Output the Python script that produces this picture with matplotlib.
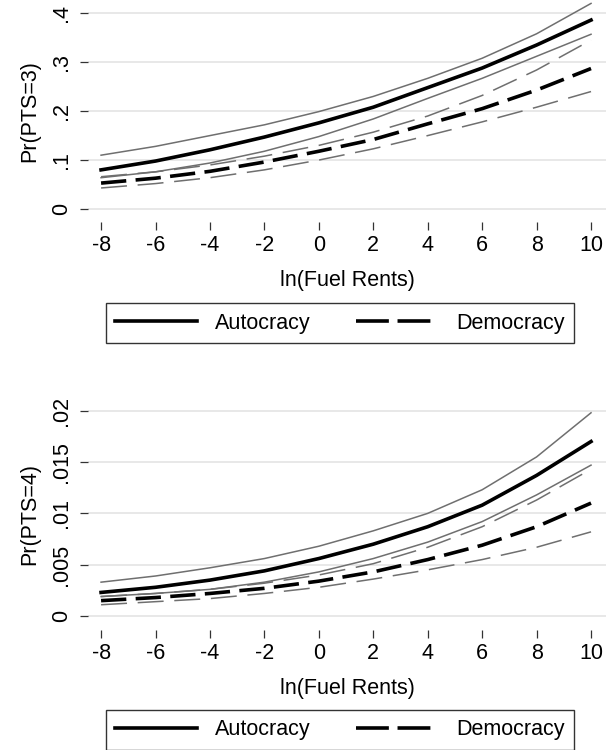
import matplotlib
matplotlib.use("Agg")
from matplotlib import pyplot as plt
from matplotlib.lines import Line2D

plt.rcParams['font.family'] = ['Liberation Sans', 'DejaVu Sans']

# ln(Fuel Rents) grid
fuel = [-8, -6, -4, -2, 0, 2, 4, 6, 8, 10]

# Pr(PTS=3)
auto3 = [.080, .098, .121, .147, .176, .208, .248, .288, .335, .386]
auto3_hi = [.110, .128, .150, .172, .199, .230, .267, .308, .358, .420]
auto3_lo = [.064, .076, .094, .118, .148, .184, .226, .267, .312, .357]
demo3 = [.053, .063, .077, .096, .118, .142, .174, .205, .243, .287]
demo3_hi = [.066, .076, .090, .108, .130, .157, .190, .232, .284, .345]
demo3_lo = [.043, .052, .064, .080, .100, .123, .150, .178, .208, .240]

# Pr(PTS=4)
auto4 = [.0023, .0028, .0035, .0044, .0056, .0070, .0087, .0108, .0137, .0170]
auto4_hi = [.0033, .0039, .0047, .0056, .0068, .0083, .0100, .0123, .0155, .0198]
auto4_lo = [.0019, .0022, .0026, .0033, .0043, .0056, .0072, .0092, .0118, .0147]
demo4 = [.0015, .0018, .0022, .0027, .0034, .0043, .0055, .0069, .0087, .0110]
demo4_hi = [.0019, .0022, .0026, .0032, .0040, .0051, .0067, .0087, .0113, .0143]
demo4_lo = [.0011, .0014, .0017, .0022, .0028, .0036, .0045, .0055, .0067, .0082]

yticks3 = [0, .1, .2, .3, .4]
ylabels3 = ['0', '.1', '.2', '.3', '.4']
yticks4 = [0, .005, .01, .015, .02]
ylabels4 = ['0', '.005', '.01', '.015', '.02']

W, H = 613, 750
FS = 15.5
GRAY = '#6f6f6f'


def panel(ax, mean_a, hi_a, lo_a, mean_d, hi_d, lo_d, yticks, ylabels, ylim, ylab):
    for y in yticks:
        ax.axhline(y, color='#e6e6e6', lw=1.3, zorder=0)
    ax.plot(fuel, hi_a, color=GRAY, lw=1.1)
    ax.plot(fuel, lo_a, color=GRAY, lw=1.1)
    ax.plot(fuel, hi_d, color=GRAY, lw=1.1, dashes=(17, 7))
    ax.plot(fuel, lo_d, color=GRAY, lw=1.1, dashes=(17, 7))
    ax.plot(fuel, mean_a, color='black', lw=2.6)
    ax.plot(fuel, mean_d, color='black', lw=2.6, dashes=(7, 2.6))
    ax.set_xlim(-8.48, 10.55)
    ax.set_ylim(*ylim)
    ax.set_xticks(fuel)
    ax.set_xticklabels([str(v) for v in fuel])
    ax.set_yticks(yticks)
    ax.set_yticklabels(ylabels, rotation=90, va='center')
    for s in ax.spines.values():
        s.set_visible(False)
    ax.tick_params(axis='both', labelsize=FS, length=5.5, width=0.9, color='#333333')
    ax.tick_params(axis='x', pad=4)
    ax.tick_params(axis='y', pad=6)
    ax.set_xlabel('ln(Fuel Rents)', fontsize=FS, labelpad=10)
    ax.set_ylabel(ylab, fontsize=FS, labelpad=8)


fig = plt.figure(figsize=(W / 100, H / 100), dpi=100)

ax1 = fig.add_axes([88 / W, 1 - 222 / H, 518 / W, 222 / H])
panel(ax1, auto3, auto3_hi, auto3_lo, demo3, demo3_hi, demo3_lo,
      yticks3, ylabels3, (-0.0265, 0.427), 'Pr(PTS=3)')

ax2 = fig.add_axes([88 / W, 1 - 630 / H, 518 / W, 232 / H])
panel(ax2, auto4, auto4_hi, auto4_lo, demo4, demo4_hi, demo4_lo,
      yticks4, ylabels4, (-0.00136, 0.02124), 'Pr(PTS=4)')

handles = [Line2D([], [], color='black', lw=2.6),
           Line2D([], [], color='black', lw=2.6, dashes=(9.1, 2.4))]
labels = ['Autocracy', 'Democracy']
for cy in (323, 730):
    leg = fig.legend(handles, labels, loc='center', bbox_to_anchor=(340 / W, 1 - cy / H),
                     ncol=2, fontsize=FS, frameon=True, fancybox=False,
                     handlelength=3.8, handletextpad=0.85, columnspacing=2.1,
                     borderpad=0.45, borderaxespad=0)
    leg.get_frame().set_edgecolor('black')
    leg.get_frame().set_linewidth(1.0)

fig.savefig('out.png', dpi=100)
